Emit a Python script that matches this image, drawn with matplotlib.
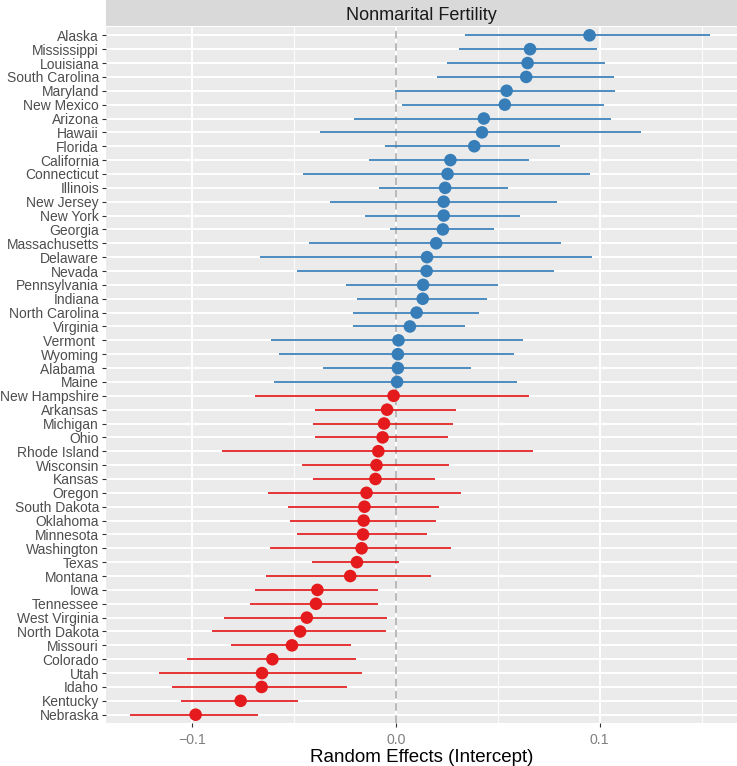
import matplotlib
matplotlib.use("Agg")
import matplotlib.pyplot as plt
import numpy as np

plt.rcParams['font.family'] = ['Liberation Sans', 'DejaVu Sans']

# states listed top to bottom, as in the chart
states = ['Alaska', 'Mississippi', 'Louisiana', 'South Carolina', 'Maryland', 'New Mexico',
          'Arizona', 'Hawaii', 'Florida', 'California', 'Connecticut', 'Illinois',
          'New Jersey', 'New York', 'Georgia', 'Massachusetts', 'Delaware', 'Nevada',
          'Pennsylvania', 'Indiana', 'North Carolina', 'Virginia', 'Vermont ', 'Wyoming',
          'Alabama ', 'Maine', 'New Hampshire', 'Arkansas', 'Michigan', 'Ohio',
          'Rhode Island', 'Wisconsin', 'Kansas', 'Oregon', 'South Dakota', 'Oklahoma',
          'Minnesota', 'Washington', 'Texas', 'Montana', 'Iowa', 'Tennessee',
          'West Virginia', 'North Dakota', 'Missouri', 'Colorado', 'Utah', 'Idaho',
          'Kentucky', 'Nebraska']
estimate = [0.0950, 0.0658, 0.0646, 0.0639, 0.0543, 0.0534,
            0.0431, 0.0422, 0.0384, 0.0267, 0.0253, 0.0241,
            0.0234, 0.0234, 0.0230, 0.0197, 0.0152, 0.0150,
            0.0133, 0.0131, 0.0101, 0.0068, 0.0012, 0.0009,
            0.0009, 0.0005, -0.0012, -0.0044, -0.0059, -0.0066,
            -0.0087, -0.0096, -0.0101, -0.0145, -0.0155, -0.0159,
            -0.0162, -0.0169, -0.0192, -0.0225, -0.0386, -0.0393,
            -0.0438, -0.0471, -0.0511, -0.0607, -0.0658, -0.0660,
            -0.0763, -0.0984]
lower = [0.0340, 0.0311, 0.0248, 0.0199, -0.0007, 0.0028,
         -0.0208, -0.0375, -0.0052, -0.0131, -0.0457, -0.0082,
         -0.0326, -0.0152, -0.0028, -0.0429, -0.0670, -0.0487,
         -0.0244, -0.0190, -0.0213, -0.0213, -0.0614, -0.0574,
         -0.0361, -0.0597, -0.0691, -0.0396, -0.0407, -0.0396,
         -0.0855, -0.0461, -0.0407, -0.0628, -0.0529, -0.0520,
         -0.0487, -0.0618, -0.0412, -0.0637, -0.0693, -0.0717,
         -0.0843, -0.0906, -0.0810, -0.1028, -0.1162, -0.1098,
         -0.1056, -0.1304]
upper = [0.1540, 0.0986, 0.1028, 0.1070, 0.1075, 0.1023,
         0.1054, 0.1201, 0.0803, 0.0653, 0.0953, 0.0550,
         0.0789, 0.0609, 0.0482, 0.0808, 0.0960, 0.0775,
         0.0499, 0.0445, 0.0407, 0.0340, 0.0621, 0.0581,
         0.0368, 0.0592, 0.0651, 0.0295, 0.0279, 0.0253,
         0.0672, 0.0258, 0.0190, 0.0321, 0.0211, 0.0194,
         0.0150, 0.0272, 0.0016, 0.0171, -0.0087, -0.0087,
         -0.0044, -0.0049, -0.0220, -0.0197, -0.0166, -0.0241,
         -0.0482, -0.0679]

W, H = 737, 766
fig = plt.figure(figsize=(W / 100, H / 100), dpi=100)
left, right = 106 / W, 1.0
top_px, bottom_px, strip_px = 27, 723, 26
ax = fig.add_axes([left, (H - bottom_px) / H, right - left, (bottom_px - top_px) / H])

n = len(states)
y = np.arange(n)[::-1]
est = np.array(estimate)
cols = np.where(est > 0, '#377EB8', '#E41A1C')

ax.set_facecolor('#EBEBEB')
ax.set_xlim(-0.1424, 0.1674)
ax.set_ylim(-0.6, n - 1 + 0.6)

for xv in [-0.15, -0.05, 0.05, 0.15]:
    ax.axvline(xv, color='white', lw=0.7, zorder=0)
for xv in [-0.1, 0.0, 0.1]:
    ax.axvline(xv, color='white', lw=1.4, zorder=0)
for yv in y:
    ax.axhline(yv, color='white', lw=1.4, zorder=0)

ax.axvline(0, color='#A6A6A6', lw=1.1, ls=(0, (5, 3)), zorder=1)

ax.hlines(y, lower, upper, colors=cols, lw=1.25, zorder=2)
ax.scatter(estimate, y, s=82, c=cols, zorder=3, edgecolors='none')

ax.set_yticks(y)
ax.set_yticklabels(states, fontsize=10, color='#4D4D4D')
ax.set_xticks([-0.1, 0.0, 0.1])
ax.set_xticklabels(['\u22120.1', '0.0', '0.1'], fontsize=10.2, color='#7F7F7F')
ax.tick_params(axis='both', length=3, width=0.8, color='#333333', pad=2)
ax.tick_params(axis='x', pad=4)
ax.set_xlabel('Random Effects (Intercept)', fontsize=13.5, color='black', labelpad=2)
for s in ax.spines.values():
    s.set_visible(False)

# facet strip
strip = fig.add_axes([left, (H - strip_px) / H, right - left, strip_px / H])
strip.set_facecolor('#D9D9D9')
strip.set_xticks([])
strip.set_yticks([])
for s in strip.spines.values():
    s.set_visible(False)
strip.text(0.5, 0.42, 'Nonmarital Fertility', ha='center', va='center', fontsize=13, color='#1A1A1A',
           transform=strip.transAxes)

fig.savefig('out.png', dpi=100, facecolor='white')
